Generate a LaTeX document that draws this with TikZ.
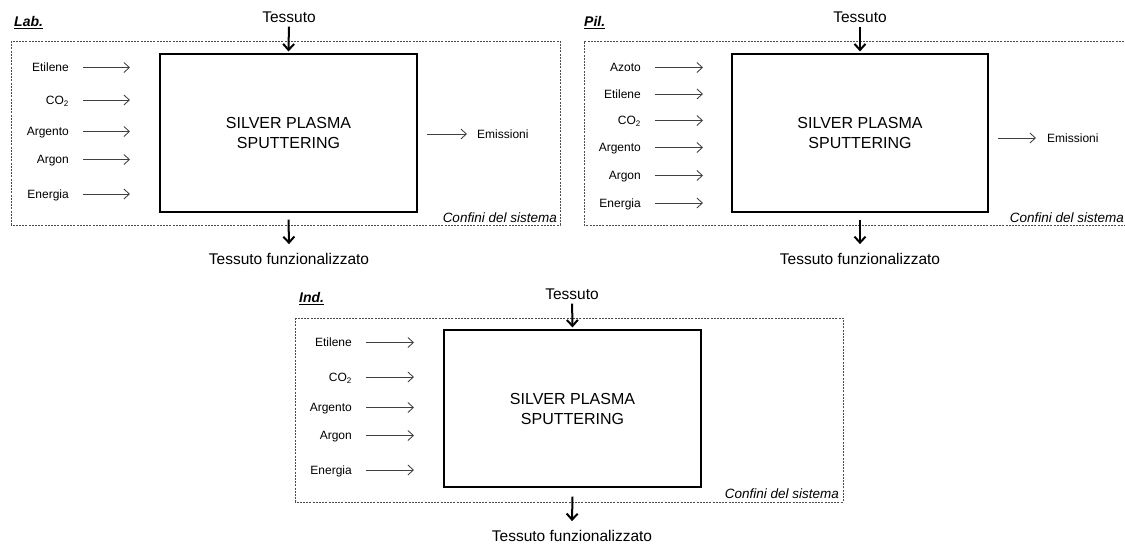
\documentclass[tikz,border=0pt]{standalone}
\usepackage{fontspec}
\setmainfont{Liberation Sans}
\usetikzlibrary{arrows.meta}

\tikzset{
  boundary/.style={draw=black!70, line width=0.9pt, dash pattern=on 2pt off 1.2pt},
  procbox/.style={draw=black, line width=1.2pt, rectangle, align=center, inner sep=0pt,
    font=\fontsize{16}{20}\selectfont},
  lbl/.style={inner sep=0pt, font=\fontsize{12}{14}\selectfont},
  flowlbl/.style={inner sep=0pt, font=\fontsize{15.5}{18}\selectfont},
  sysnote/.style={inner sep=0pt, anchor=base east, font=\fontsize{13.5}{16}\selectfont\itshape},
  scenario/.style={inner sep=0pt, anchor=base west, font=\fontsize{14}{16}\selectfont\bfseries\itshape},
  inarrow/.style={draw=black!75, line width=0.85pt, -{Straight Barb[length=5.5pt,width=10pt]}},
  mainarrow/.style={draw=black, line width=2pt, -{Straight Barb[length=6pt,width=11pt]}},
}

% one input row: name, label text, arrow y, label right edge, arrow end
\newcommand\flowin[5]{%
  \node[lbl, anchor=base east] (#1) at (#4,#3+4.3) {#2};
  \coordinate (#1tip) at (#5,#3);
  \draw[inarrow, shorten <=14pt] (#1.east |- #1tip) -- (#1tip);
}

\begin{document}
\begin{tikzpicture}[x=1pt,y=-1pt]
\clip (0,0) rectangle (1125,544);
\fill[white] (0,0) rectangle (1125,544);

% ---------------- Lab. ----------------
\node[scenario] (labName) at (14,26.5) {\underline{Lab.}};
\draw[boundary] (11,41) rectangle (560,225);
\node[procbox, minimum width=257pt, minimum height=158pt] (labP) at (288.5,133) {SILVER PLASMA\\SPUTTERING};
\node[flowlbl] (labT) at (289,17) {Tessuto};
\draw[mainarrow, shorten <=4pt] (labT.south) -- ([yshift=2pt]labP.north);
\node[flowlbl] (labOut) at (289,259) {Tessuto funzionalizzato};
\draw[mainarrow] ([yshift=-7pt]labP.south) -- ([yshift=9pt]labOut.north);
\flowin{labI1}{Etilene}{67.5}{69}{130}
\flowin{labI2}{CO\textsubscript{2}}{100}{69}{130}
\flowin{labI3}{Argento}{131.5}{69}{130}
\flowin{labI4}{Argon}{159.5}{69}{130}
\flowin{labI5}{Energia}{194}{69}{130}
\node[lbl, anchor=base west] (labEm) at (477,138.5) {Emissioni};
\coordinate (labEmStart) at (427,134);
\draw[inarrow, shorten >=10pt] (labEmStart) -- (labEmStart -| labEm.west);
\node[sysnote] (labSys) at (557,222) {Confini del sistema};

% ---------------- Pil. ----------------
\node[scenario] (pilName) at (584,26.5) {\underline{Pil.}};
\draw[boundary] (1140,41) -- (584,41) -- (584,225) -- (1140,225);
\node[procbox, minimum width=256pt, minimum height=158pt] (pilP) at (860,133) {SILVER PLASMA\\SPUTTERING};
\node[flowlbl] (pilT) at (860,17) {Tessuto};
\draw[mainarrow, shorten <=4pt] (pilT.south) -- ([yshift=2pt]pilP.north);
\node[flowlbl] (pilOut) at (860,259) {Tessuto funzionalizzato};
\draw[mainarrow] ([yshift=-7pt]pilP.south) -- ([yshift=9pt]pilOut.north);
\flowin{pilI1}{Azoto}{67.5}{641}{703}
\flowin{pilI2}{Etilene}{94}{641}{703}
\flowin{pilI3}{CO\textsubscript{2}}{120.5}{641}{703}
\flowin{pilI4}{Argento}{147.5}{641}{703}
\flowin{pilI5}{Argon}{175.5}{641}{703}
\flowin{pilI6}{Energia}{203}{641}{703}
\node[lbl, anchor=base west] (pilEm) at (1047,142.5) {Emissioni};
\coordinate (pilEmStart) at (998,138);
\draw[inarrow, shorten >=11pt] (pilEmStart) -- (pilEmStart -| pilEm.west);
\node[sysnote] (pilSys) at (1124,222) {Confini del sistema};

% ---------------- Ind. ----------------
\node[scenario] (indName) at (299,302.5) {\underline{Ind.}};
\draw[boundary] (295,318) rectangle (843,502);
\node[procbox, minimum width=257pt, minimum height=157pt] (indP) at (572.5,408.5) {SILVER PLASMA\\SPUTTERING};
\node[flowlbl] (indT) at (572,294) {Tessuto};
\draw[mainarrow, shorten <=4pt] (indT.south) -- ([yshift=2pt]indP.north);
\node[flowlbl] (indOut) at (572,536) {Tessuto funzionalizzato};
\draw[mainarrow] ([yshift=-9pt]indP.south) -- ([yshift=9pt]indOut.north);
\flowin{indI1}{Etilene}{342.5}{352}{414}
\flowin{indI2}{CO\textsubscript{2}}{377}{352}{414}
\flowin{indI3}{Argento}{407.5}{352}{414}
\flowin{indI4}{Argon}{435.5}{352}{414}
\flowin{indI5}{Energia}{470}{352}{414}
\node[sysnote] (indSys) at (839,498) {Confini del sistema};
\end{tikzpicture}
\end{document}
